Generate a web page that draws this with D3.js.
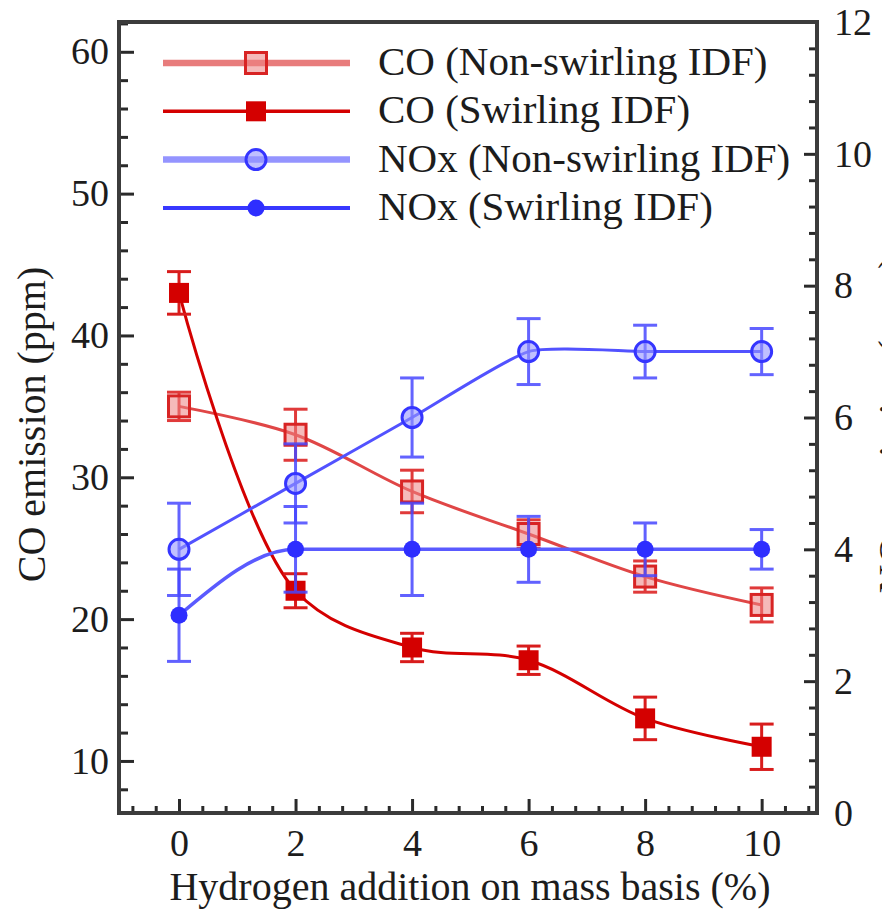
<!DOCTYPE html>
<html>
<head>
<meta charset="utf-8">
<script src="https://cdn.jsdelivr.net/npm/d3@7"></script>
<style>
  body { margin: 0; background: #fff; }
  svg text { font-family: 'Liberation Serif', 'Times New Roman', Times, serif !important; fill: #1c1c1c; }
</style>
</head>
<body>
<div id="chart"><svg width="882" height="910"></svg></div>
<script>
// hydrogen addition (% mass)
const hydrogen = [0, 2, 4, 6, 8, 10];

// CO emission, ppm (left axis)
const coNonSwirl    = [35, 33, 29, 26, 23, 21];
const coNonSwirlErr = [1.0, 1.8, 1.5, 1.0, 1.1, 1.2];
const coSwirl       = [43, 22, 18, 17.1, 13, 11];
const coSwirlErr    = [1.5, 1.2, 1.0, 1.0, 1.5, 1.6];

// NOx emission, ppm (right axis)
const noxNonSwirl    = [4, 5, 6, 7, 7, 7];
const noxNonSwirlErr = [0.7, 0.6, 0.6, 0.5, 0.4, 0.35];
const noxSwirl       = [3, 4, 4, 4, 4, 4];
const noxSwirlErr    = [0.7, 0.65, 0.7, 0.5, 0.4, 0.3];

const leftTicks  = [10, 20, 30, 40, 50, 60];
const rightTicks = [0, 2, 4, 6, 8, 10, 12];
const xTicks     = [0, 2, 4, 6, 8, 10];

const seriesNames = [
    "CO (Non-swirling IDF)",
    "CO (Swirling IDF)",
    "NOx (Non-swirling IDF)",
    "NOx (Swirling IDF)"
];

const FONT = "'Liberation Serif', 'Times New Roman', Times, serif"

function Chart(config){
    var width = config.width,
        height = config.height,
        id = config.id,
        svg

    let margin = config.margin
    let w = width - margin.left - margin.right,
        h = height - margin.top - margin.bottom

    var x = d3.scaleLinear().domain([-1.03, 10.95]).range([0, w]),
        yL = d3.scaleLinear().domain([6.33, 62.1]).range([h, 0]),
        yR = d3.scaleLinear().domain([0, 12]).range([h, 0])

    // styles per series, in draw order
    var styles = [
        {axis: yL, marker: 'square', line: '#e04646', lw: 3, err: '#e03a3a', stroke: '#d82424', fill: 'rgba(236,130,130,0.55)', size: 21,
         curve: d3.curveCatmullRom.alpha(0.5), legLine: '#e87c7c', legLw: 6.5},
        {axis: yL, marker: 'square', line: '#d40000', lw: 3, err: '#d81c1c', stroke: 'none', fill: '#d40000', size: 20,
         curve: d3.curveCatmullRom.alpha(0.5), legLine: '#d40000', legLw: 3.5},
        {axis: yR, marker: 'circle', line: '#5252ff', lw: 3, err: '#4848ff', stroke: '#3535ff', fill: 'rgba(150,150,255,0.6)', size: 20,
         curve: d3.curveCardinal.tension(0.45), legLine: '#9494ff', legLw: 6.5},
        {axis: yR, marker: 'circle', line: '#5a5aff', lw: 3.5, err: '#4646ff', stroke: 'none', fill: '#2e2eff', size: 17,
         curve: d3.curveMonotoneX, legLine: '#3838ff', legLw: 4}
    ]

    var values = [coNonSwirl, coSwirl, noxNonSwirl, noxSwirl],
        errors = [coNonSwirlErr, coSwirlErr, noxNonSwirlErr, noxSwirlErr]

    function chart(){
        initialize();
        drawAxes();
        drawSeries();
        drawLegend();
    }

    const initialize = () => {
        svg = d3.select('#' + id).select('svg')
            .append('g')
            .attr('transform', 'translate(' + margin.left + ',' + margin.top + ')');
    }

    const minors = (lo, hi, step, majors) => {
        var out = []
        for (var i = 0; lo + i * step <= hi + 1e-9; i++) {
            var v = +(lo + i * step).toFixed(3)
            if (!majors.some(m => Math.abs(m - v) < 1e-6)) out.push(v)
        }
        return out
    }

    const styleAxis = (g) => {
        g.attr('font-family', FONT)
        g.select('.domain').remove()
        g.selectAll('.tick line').attr('stroke', '#2a2a2a').attr('stroke-width', 3)
        g.selectAll('.tick text')
            .style('font-size', '38px')
            .style('font-family', FONT)
            .attr('fill', '#1c1c1c')
    }

    const drawAxes = () => {
        // minor ticks
        svg.append('g')
            .call(d3.axisLeft(yL).tickValues(minors(8, 62, 2, leftTicks)).tickSize(-9).tickFormat(''))
            .call(styleAxis)
        svg.append('g')
            .attr('transform', 'translate(' + w + ',0)')
            .call(d3.axisRight(yR).tickValues(minors(0, 12, 0.4, rightTicks)).tickSize(-8).tickFormat(''))
            .call(styleAxis)
        svg.append('g')
            .attr('transform', 'translate(0,' + h + ')')
            .call(d3.axisBottom(x).tickValues(minors(-0.8, 10.8, 0.4, xTicks)).tickSize(-7).tickFormat(''))
            .call(styleAxis)

        // major ticks
        svg.append('g')
            .call(d3.axisLeft(yL).tickValues(leftTicks).tickSize(-15).tickPadding(10).tickFormat(d3.format('d')))
            .call(styleAxis)
        svg.append('g')
            .attr('transform', 'translate(' + w + ',0)')
            .call(d3.axisRight(yR).tickValues(rightTicks).tickSize(-13).tickPadding(17).tickFormat(d3.format('d')))
            .call(styleAxis)
        svg.append('g')
            .attr('transform', 'translate(0,' + h + ')')
            .call(d3.axisBottom(x).tickValues(xTicks).tickSize(-14).tickPadding(16).tickFormat(d3.format('d')))
            .call(styleAxis)

        // frame
        svg.append('rect')
            .attr('x', 0).attr('y', 0)
            .attr('width', w).attr('height', h)
            .attr('fill', 'none')
            .attr('stroke', '#3c3c3c')
            .attr('stroke-width', 4)

        // titles
        svg.append('text')
            .attr('x', w / 2 + 2)
            .attr('y', h + 87)
            .attr('text-anchor', 'middle')
            .style('font-family', FONT)
            .style('font-size', '40px')
            .text('Hydrogen addition on mass basis (%)')

        svg.append('text')
            .attr('transform', 'translate(' + (45 - margin.left) + ',' + (h / 2 + 7) + ') rotate(-90)')
            .attr('text-anchor', 'middle')
            .style('font-family', FONT)
            .style('font-size', '40px')
            .text('CO emission (ppm)')

        // right title sits mostly outside the picture, as in the source figure
        svg.append('text')
            .attr('transform', 'translate(' + (w + 89) + ',' + (h / 2 + 7) + ') rotate(-90)')
            .attr('text-anchor', 'middle')
            .style('font-family', FONT)
            .style('font-size', '40px')
            .text('NOx emission (ppm)')
    }

    const drawMarker = (g, st, cx, cy) => {
        var s = st.size
        if (st.marker === 'square') {
            g.append('rect')
                .attr('x', cx - s / 2).attr('y', cy - s / 2)
                .attr('width', s).attr('height', s)
                .attr('fill', st.fill)
                .attr('stroke', st.stroke)
                .attr('stroke-width', st.stroke === 'none' ? 0 : 3)
        } else {
            g.append('circle')
                .attr('cx', cx).attr('cy', cy)
                .attr('r', s / 2)
                .attr('fill', st.fill)
                .attr('stroke', st.stroke)
                .attr('stroke-width', st.stroke === 'none' ? 0 : 3)
        }
    }

    const drawSeries = () => {
        var plot = svg.append('g')

        values.forEach((vals, i) => {
            var st = styles[i],
                ys = st.axis,
                pts = hydrogen.map((hx, j) => ({x: hx, v: vals[j], e: errors[i][j]}))

            var line = d3.line()
                .x(d => x(d.x))
                .y(d => ys(d.v))
                .curve(st.curve)

            var g = plot.append('g').attr('class', 'series-' + i)

            g.append('path')
                .datum(pts)
                .attr('d', line)
                .attr('fill', 'none')
                .attr('stroke', st.line)
                .attr('stroke-width', st.lw)

            var eb = g.selectAll('.err').data(pts).enter().append('g').attr('class', 'err')
                .attr('stroke', st.err)
                .attr('stroke-width', 3)
                .attr('opacity', i >= 2 ? 0.85 : 1)
            eb.append('line')
                .attr('x1', d => x(d.x)).attr('x2', d => x(d.x))
                .attr('y1', d => ys(d.v - d.e)).attr('y2', d => ys(d.v + d.e))
            eb.append('line')
                .attr('x1', d => x(d.x) - 12).attr('x2', d => x(d.x) + 12)
                .attr('y1', d => ys(d.v + d.e)).attr('y2', d => ys(d.v + d.e))
            eb.append('line')
                .attr('x1', d => x(d.x) - 12).attr('x2', d => x(d.x) + 12)
                .attr('y1', d => ys(d.v - d.e)).attr('y2', d => ys(d.v - d.e))

            pts.forEach(d => drawMarker(g, st, x(d.x), ys(d.v)))
        })
    }

    const drawLegend = () => {
        var lg = svg.append('g').attr('transform', 'translate(' + (163 - margin.left) + ',' + (63 - margin.top) + ')')
        seriesNames.forEach((name, i) => {
            var st = styles[i],
                row = lg.append('g').attr('transform', 'translate(0,' + (i * 48.3) + ')')
            row.append('line')
                .attr('x1', 0).attr('x2', 187)
                .attr('y1', 0).attr('y2', 0)
                .attr('stroke', st.legLine)
                .attr('stroke-width', st.legLw)
            drawMarker(row, st, 93, 0)
            row.append('text')
                .attr('x', 215)
                .attr('y', 12)
                .style('font-family', FONT)
                .style('font-size', '41px')
                .text(name)
        })
    }

    return chart;
}

var chart = Chart({
    width: 882,
    height: 910,
    id: 'chart',
    margin: {top: 22, bottom: 97, left: 119, right: 65}
});
chart();
</script>
</body>
</html>
